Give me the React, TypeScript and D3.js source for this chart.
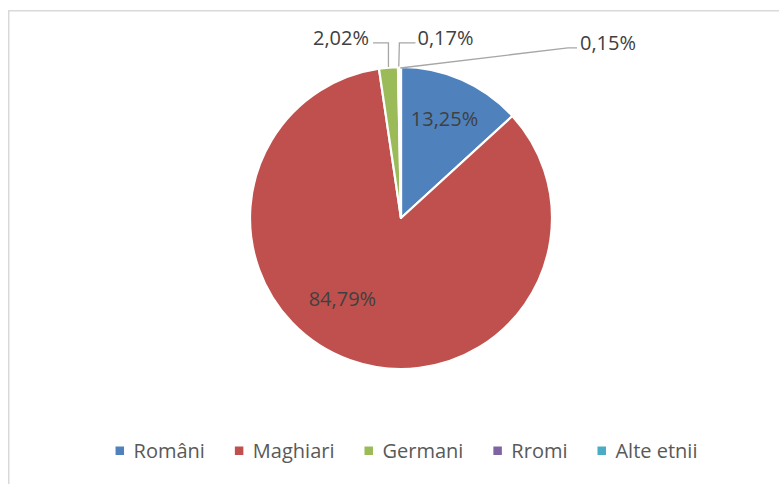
import React, { useMemo } from "react";
import * as d3 from "d3";

const categories = ["Români", "Maghiari", "Germani", "Rromi", "Alte etnii"];
const values = [13.25, 84.79, 2.02, 0.17, 0.15];
const valueLabels = ["13,25%", "84,79%", "2,02%", "0,17%", "0,15%"];
const colors = ["#4f81bd", "#c0504d", "#9bbb59", "#8064a2", "#4bacc6"];

// layout (not data)
const W = 779;
const H = 484;
const CX = 401;
const CY = 218;
const R = 151;
const FONT = "'Open Sans', 'DejaVu Sans', sans-serif";
const FS = 20;

// label placement relative to pie centre
type LabelLayout =
  | { kind: "inside"; angleDeg?: number; rFrac: number }
  | { kind: "outside"; dx: number; dy: number; side: "left" | "right"; elbow: "vertical" | "diagonal" };
const labelLayout: LabelLayout[] = [
  { kind: "inside", rFrac: 0.715 },
  { kind: "inside", angleDeg: 216, rFrac: 0.66 },
  { kind: "outside", dx: -60, dy: -180, side: "left", elbow: "vertical" },
  { kind: "outside", dx: 44.5, dy: -180, side: "right", elbow: "vertical" },
  { kind: "outside", dx: 207, dy: -175, side: "right", elbow: "diagonal" },
];

function measure(text: string): number {
  if (typeof document === "undefined") return text.length * 10;
  const c = document.createElement("canvas");
  const ctx = c.getContext("2d");
  if (!ctx) return text.length * 10;
  ctx.font = `${FS}px 'Open Sans'`;
  return ctx.measureText(text).width;
}

export default function App() {
  const arcs = useMemo(() => {
    const pie = d3.pie<number>().sort(null).value((d) => d);
    return pie(values);
  }, []);
  const arc = d3.arc<d3.PieArcDatum<number>>().innerRadius(0).outerRadius(R);

  // legend layout
  const sq = 8.5;
  const sqGap = 9.5;
  const itemGap = 30;
  const widths = categories.map((c) => measure(c));
  const total = widths.reduce((a, w) => a + sq + sqGap + w, 0) + itemGap * (categories.length - 1);
  let lx = 406.5 - total / 2;
  const legendItems = categories.map((c, i) => {
    const x = lx;
    lx += sq + sqGap + widths[i] + itemGap;
    return { c, x, color: colors[i] };
  });

  const labelEls = arcs.map((a, i) => {
    const lay = labelLayout[i];
    const mid = (a.startAngle + a.endAngle) / 2;
    if (lay.kind === "inside") {
      const ang = lay.angleDeg !== undefined ? (lay.angleDeg * Math.PI) / 180 : mid;
      const r = R * lay.rFrac;
      const x = CX + r * Math.sin(ang);
      const y = CY - r * Math.cos(ang);
      return (
        <text key={i} x={x} y={y + 7.1} textAnchor="middle" fontSize={FS} fontFamily={FONT} fill="#404040">
          {valueLabels[i]}
        </text>
      );
    }
    const ex = CX + R * Math.sin(mid);
    const ey = CY - R * Math.cos(mid) - 0.5;
    const tx = CX + lay.dx;
    const ty = CY + lay.dy;
    const tw = measure(valueLabels[i]);
    const lineY = ty + 4.8;
    let pts: [number, number][];
    if (lay.side === "left") {
      const endX = tx + tw / 2 + 4;
      pts = [
        [ex, ey],
        [ex, lineY],
        [endX, lineY],
      ];
    } else if (lay.elbow === "vertical") {
      const endX = tx - tw / 2 - 2;
      pts = [
        [ex, ey],
        [ex + 0.6, lineY],
        [endX, lineY],
      ];
    } else {
      const endX = tx - tw / 2 - 3;
      pts = [
        [ex, ey + 1.5],
        [endX - 9, lineY],
        [endX, lineY],
      ];
    }
    const line = d3.line()(pts) || "";
    return (
      <g key={i}>
        <path d={line} fill="none" stroke="#a6a6a6" strokeWidth={1.3} />
        <text x={tx} y={ty + 7.1} textAnchor="middle" fontSize={FS} fontFamily={FONT} fill="#404040">
          {valueLabels[i]}
        </text>
      </g>
    );
  });

  return (
    <svg
      width={W}
      height={H}
      style={{ position: "absolute", left: 0, top: 0, background: "#fff" }}
      xmlns="http://www.w3.org/2000/svg"
    >
      <rect x={0} y={0} width={W} height={H} fill="#fff" />
      <rect x={8.75} y={10.75} width={900} height={600} fill="none" stroke="#d9d9d9" strokeWidth={1.5} />
      <g>
        {arcs.map((a, i) => (
          <path
            key={i}
            d={arc(a) || ""}
            transform={`translate(${CX},${CY})`}
            fill={colors[i]}
            stroke="#fff"
            strokeWidth={2.2}
            strokeLinejoin="round"
          />
        ))}
      </g>
      {labelEls}
      <g>
        {legendItems.map((it, i) => (
          <g key={i}>
            <rect x={it.x} y={446.5} width={sq} height={sq} fill={it.color} />
            <text x={it.x + sq + sqGap} y={458} fontSize={FS} fontFamily={FONT} fill="#595959">
              {it.c}
            </text>
          </g>
        ))}
      </g>
    </svg>
  );
}
